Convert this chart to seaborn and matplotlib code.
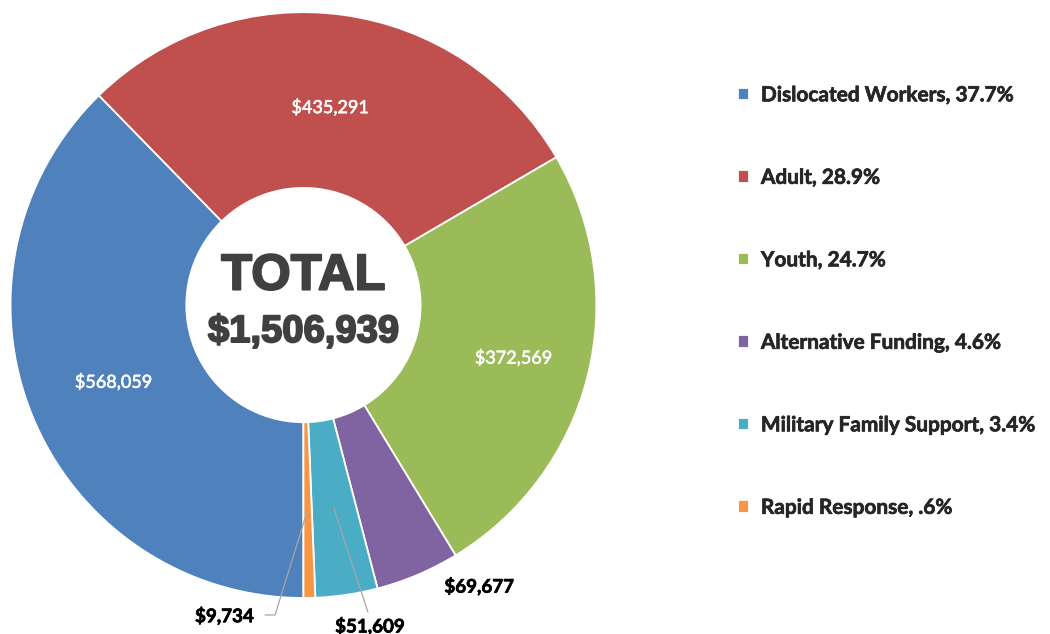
import numpy as np
import matplotlib
matplotlib.use("Agg")
import matplotlib.pyplot as plt
import matplotlib.patheffects as pe
import seaborn as sns

# Funding breakdown
categories = ["Dislocated Workers", "Adult", "Youth", "Alternative Funding",
              "Military Family Support", "Rapid Response"]
amounts = [568059, 435291, 372569, 69677, 51609, 9734]
colors = ["#4F81BD", "#C0504D", "#9BBB59", "#8064A2", "#4BACC6", "#F79646"]

sns.set_theme(style="white")
plt.rcParams["font.family"] = ["Lato", "DejaVu Sans"]

total = sum(amounts)
shares = [a / total * 100 for a in amounts]


def pct_text(p):
    s = f"{p:.1f}%"
    return s[1:] if s.startswith("0.") else s


legend_labels = [f"{c}, {pct_text(p)}" for c, p in zip(categories, shares)]

fig = plt.figure(figsize=(10.5, 6.34), dpi=100)
ax = fig.add_axes([0.01, 0.0568, 0.558, 0.924])

wedges, _ = ax.pie(amounts, colors=colors, startangle=-90, counterclock=False,
                   radius=1.0, wedgeprops=dict(width=0.6, edgecolor="white", linewidth=1.3))
ax.set_xlim(-1, 1)
ax.set_ylim(-1, 1)
ax.set_aspect("equal")
ax.axis("off")

# Value labels inside the three large segments
label_r = [0.7, 0.68, 0.74]
for w, amt, r in zip(wedges[:3], amounts[:3], label_r):
    ang = np.deg2rad((w.theta1 + w.theta2) / 2)
    ax.text(r * np.cos(ang), r * np.sin(ang), f"${amt:,}", color="white",
            fontsize=13, ha="center", va="center",
            path_effects=[pe.withStroke(linewidth=0.4, foreground="white")])

# Value labels outside the small segments, with leader lines for the thin ones
outside = {3: ((0.60, -0.96), None),
           4: ((0.227, -1.096), (0.22, -1.048)),
           5: ((-0.27, -1.061), (-0.131, -1.058))}
for i, (txt_xy, line_end) in outside.items():
    ax.text(*txt_xy, f"${amounts[i]:,}", color="black", fontsize=13.5,
            fontweight="bold", ha="center", va="center", clip_on=False,
            path_effects=[pe.withStroke(linewidth=0.5, foreground="black")])
    if line_end is not None:
        w = wedges[i]
        ang = np.deg2rad((w.theta1 + w.theta2) / 2)
        sx, sy = 0.7 * np.cos(ang), 0.7 * np.sin(ang)
        if i == 5:
            xs = [sx, -0.097, line_end[0]]
            ys = [sy, -1.058, line_end[1]]
        else:
            xs = [sx, line_end[0]]
            ys = [sy, line_end[1]]
        ax.plot(xs, ys, color="#A6A6A6", lw=0.9, clip_on=False)

# Total in the centre
heavy = [pe.withStroke(linewidth=1.4, foreground="#404040")]
ax.text(0, 0.099, "TOTAL", fontsize=36.5, fontweight="bold", color="#404040",
        ha="center", va="center", family=["Liberation Sans", "DejaVu Sans"],
        path_effects=heavy)
ax.text(0, -0.092, f"${total:,}", fontsize=27.5, fontweight="bold", color="#404040",
        ha="center", va="center", family=["Liberation Sans", "DejaVu Sans"],
        path_effects=heavy)

leg = fig.legend(wedges, legend_labels, loc="upper left", bbox_to_anchor=(0.685, 0.895),
                 frameon=False, handlelength=0.55, handleheight=0.55, handletextpad=0.55,
                 labelspacing=3.0, prop=dict(size=15, weight="bold"))
for t in leg.get_texts():
    t.set_path_effects([pe.withStroke(linewidth=0.5, foreground=t.get_color())])

fig.savefig("out.png", dpi=100, facecolor="white")
